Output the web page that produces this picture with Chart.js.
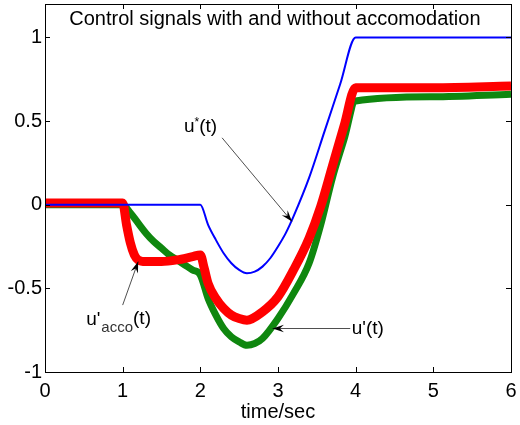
<!DOCTYPE html>
<html>
<head>
<meta charset="utf-8">
<script src="https://cdn.jsdelivr.net/npm/chart.js@4.4.1/dist/chart.umd.min.js"></script>
<style>
  html, body { margin: 0; padding: 0; background: #fff; }
  #wrap { width: 520px; height: 425px; }
</style>
</head>
<body>
<div id="wrap"><canvas id="chart" width="520" height="425"></canvas></div>
<script>
// values (time in sec, signal)
const uStarT = [0, 2.0, 2.1, 2.2, 2.3, 2.4, 2.5, 2.6, 2.7, 2.8, 2.9, 3.0, 3.1, 3.2, 3.4, 3.6, 3.8, 4.0, 6.0];
const uStarY = [0, 0, -0.12, -0.21, -0.29, -0.35, -0.39, -0.41, -0.40, -0.37, -0.32, -0.25, -0.17, -0.07, 0.16, 0.44, 0.72, 1.0, 1.0];

const uAccoT = [0, 1.0, 1.05, 1.1, 1.15, 1.2, 1.3, 1.5, 1.7, 1.9, 2.0, 2.05, 2.1, 2.2, 2.3, 2.4, 2.5, 2.6, 2.8, 3.0, 3.2, 3.4, 3.55, 3.7, 3.85, 4.0, 5.0, 6.0];
const uAccoY = [0.01, 0.01, -0.12, -0.23, -0.30, -0.33, -0.34, -0.34, -0.33, -0.31, -0.30, -0.38, -0.47, -0.56, -0.62, -0.66, -0.68, -0.69, -0.64, -0.55, -0.39, -0.20, -0.01, 0.23, 0.47, 0.70, 0.70, 0.71];

const uPrimeT = [0, 1.0, 1.1, 1.2, 1.3, 1.4, 1.5, 1.6, 1.7, 1.8, 1.9, 2.0, 2.1, 2.2, 2.3, 2.4, 2.5, 2.6, 2.7, 2.8, 3.0, 3.2, 3.4, 3.55, 3.7, 3.85, 4.0, 5.0, 6.0];
const uPrimeY = [0, 0, -0.05, -0.11, -0.17, -0.22, -0.26, -0.30, -0.33, -0.36, -0.39, -0.42, -0.56, -0.66, -0.74, -0.79, -0.82, -0.84, -0.83, -0.80, -0.68, -0.53, -0.35, -0.12, 0.16, 0.39, 0.62, 0.645, 0.66];

const xTicks = [0, 1, 2, 3, 4, 5, 6];
const yTicks = [-1, -0.5, 0, 0.5, 1];

const toPoints = (ts, ys) => ts.map((t, i) => ({ x: t, y: ys[i] }));

const FONT = '"Liberation Sans", Arial, sans-serif';

// inward MATLAB-style ticks and box
const boxPlugin = {
    id: 'box',
    afterDatasetsDraw(chart) {
        const ctx = chart.ctx;
        const a = chart.chartArea;
        const xs = chart.scales.x, ys = chart.scales.y;
        const len = 5;
        ctx.save();
        ctx.strokeStyle = '#000';
        ctx.lineWidth = 1;
        ctx.beginPath();
        xTicks.forEach(v => {
            const px = Math.round(xs.getPixelForValue(v)) + 0.5;
            ctx.moveTo(px, a.bottom); ctx.lineTo(px, a.bottom - len);
            ctx.moveTo(px, a.top); ctx.lineTo(px, a.top + len);
        });
        yTicks.forEach(v => {
            const py = Math.round(ys.getPixelForValue(v)) + 0.5;
            ctx.moveTo(a.left, py); ctx.lineTo(a.left + len, py);
            ctx.moveTo(a.right, py); ctx.lineTo(a.right - len, py);
        });
        ctx.stroke();
        ctx.strokeRect(Math.round(a.left) + 0.5, Math.round(a.top) + 0.5,
            Math.round(a.right - a.left), Math.round(a.bottom - a.top));
        ctx.restore();
    }
};

function arrow(ctx, x1, y1, x2, y2) {
    ctx.beginPath();
    ctx.moveTo(x1, y1);
    ctx.lineTo(x2, y2);
    ctx.stroke();
    const ang = Math.atan2(y2 - y1, x2 - x1);
    const h = 12, w = 0.32;
    ctx.beginPath();
    ctx.moveTo(x2, y2);
    ctx.lineTo(x2 - h * Math.cos(ang - w), y2 - h * Math.sin(ang - w));
    ctx.lineTo(x2 - h * 0.6 * Math.cos(ang), y2 - h * 0.6 * Math.sin(ang));
    ctx.lineTo(x2 - h * Math.cos(ang + w), y2 - h * Math.sin(ang + w));
    ctx.closePath();
    ctx.fill();
}

// title inside the axes and the arrow labels
const labelPlugin = {
    id: 'labels',
    afterDraw(chart) {
        const ctx = chart.ctx;
        const xs = chart.scales.x, ys = chart.scales.y;
        const X = v => xs.getPixelForValue(v);
        const Y = v => ys.getPixelForValue(v);
        ctx.save();
        ctx.fillStyle = '#000';
        ctx.textBaseline = 'middle';

        ctx.font = '20px ' + FONT;
        ctx.textAlign = 'center';
        ctx.fillText('Control signals with and without accomodation', X(2.96), Y(1.11));

        ctx.textAlign = 'left';
        // u*(t) with superscript star
        ctx.font = '19px ' + FONT;
        let x0 = X(1.79), y0 = Y(0.465);
        ctx.fillText('u', x0, y0);
        x0 += ctx.measureText('u').width;
        ctx.font = '12px ' + FONT;
        ctx.fillText('*', x0, y0 - 4);
        x0 += ctx.measureText('*').width;
        ctx.font = '19px ' + FONT;
        ctx.fillText('(t)', x0, y0);

        ctx.fillText("u'(t)", X(3.95), Y(-0.74));

        // u'acco(t) with subscript
        x0 = X(0.53); y0 = Y(-0.69);
        ctx.fillText("u'", x0, y0);
        x0 += ctx.measureText("u'").width + 1;
        ctx.font = '15px ' + FONT;
        ctx.fillStyle = '#333';
        ctx.fillText('acco', x0, y0 + 8);
        x0 += ctx.measureText('acco').width;
        ctx.font = '19px ' + FONT;
        ctx.fillStyle = '#000';
        ctx.fillText('(t)', x0, y0 - 1);

        ctx.strokeStyle = '#222';
        ctx.fillStyle = '#000';
        ctx.lineWidth = 0.8;
        arrow(ctx, X(2.28), Y(0.4), X(3.18), Y(-0.1));
        arrow(ctx, X(1.0), Y(-0.6), X(1.2), Y(-0.34));
        arrow(ctx, X(3.93), Y(-0.74), X(2.93), Y(-0.74));
        ctx.restore();
    }
};

new Chart(document.getElementById('chart'), {
    type: 'line',
    data: {
        datasets: [
            { label: 'u*(t)', data: toPoints(uStarT, uStarY), borderColor: '#0000ff', borderWidth: 2 },
            { label: "u'acco(t)", data: toPoints(uAccoT, uAccoY), borderColor: '#ff0000', borderWidth: 9 },
            { label: "u'(t)", data: toPoints(uPrimeT, uPrimeY), borderColor: '#0f870f', borderWidth: 7 }
        ]
    },
    options: {
        responsive: false,
        animation: false,
        events: [],
        elements: {
            point: { radius: 0 },
            line: { cubicInterpolationMode: 'monotone', borderJoinStyle: 'round' }
        },
        layout: { padding: { left: 0, right: 9, top: 4, bottom: 0 } },
        plugins: { legend: { display: false }, tooltip: { enabled: false } },
        scales: {
            x: {
                type: 'linear', min: 0, max: 6,
                afterBuildTicks: s => { s.ticks = xTicks.map(v => ({ value: v })); },
                afterFit: s => { s.height = 53; s.paddingLeft = 0; s.paddingRight = 0; },
                grid: { display: false, drawTicks: false },
                border: { display: false },
                ticks: { color: '#000', font: { family: FONT, size: 20 }, padding: 7, callback: v => String(v) },
                title: { display: true, text: 'time/sec', color: '#000', font: { family: FONT, size: 20 }, padding: { top: 0, bottom: 1 } }
            },
            y: {
                type: 'linear', min: -1, max: 1.2,
                afterBuildTicks: s => { s.ticks = yTicks.map(v => ({ value: v })); },
                afterFit: s => { s.width = 45; s.paddingTop = 0; s.paddingBottom = 0; },
                grid: { display: false, drawTicks: false },
                border: { display: false },
                ticks: { color: '#000', font: { family: FONT, size: 20 }, padding: 3, callback: v => String(v) }
            }
        }
    },
    plugins: [boxPlugin, labelPlugin]
});
</script>
</body>
</html>
